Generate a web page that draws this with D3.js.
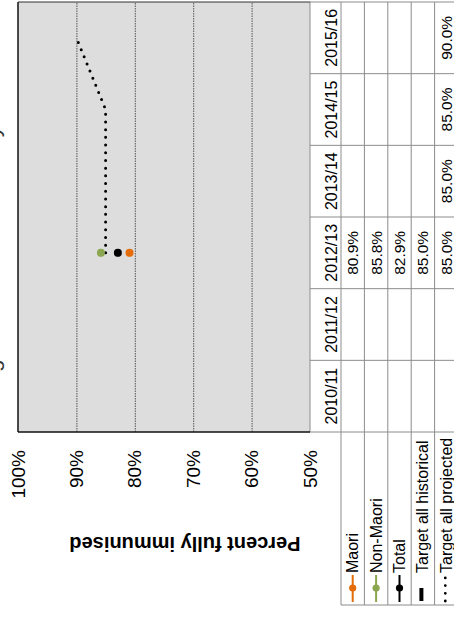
<!DOCTYPE html>
<html><head><meta charset="utf-8">
<script src="https://cdn.jsdelivr.net/npm/d3@7"></script>
<style>html,body{margin:0;padding:0;background:#fff;}svg{display:block;}</style>
</head><body>
<script>
// ---- data ----
const years = ["2010/11","2011/12","2012/13","2013/14","2014/15","2015/16"];
const maori = [null,null,80.9,null,null,null];
const nonMaori = [null,null,85.8,null,null,null];
const total = [null,null,82.9,null,null,null];
const targetHistorical = [null,null,85.0,null,null,null];
const targetProjected = [null,null,85.0,85.0,85.0,90.0];
const yTicks = [50,60,70,80,90,100];
const rowNames = ["Maori","Non-Maori","Total","Target all historical","Target all projected"];
const titleText = "Percent of children at eight months who are fully immunised to date";

(function(){
const colors = {"Maori":"#E46C0A","Non-Maori":"#8AA64E","Total":"#000000"};
const font = "Liberation Sans, Arial, Helvetica, sans-serif";

const svg = d3.select("body").append("svg").attr("width",454).attr("height",617);
// whole chart is rotated 90deg counter-clockwise
const g = svg.append("g").attr("transform","translate(0,617) rotate(-90)").style("font-family",font);

const pLeft = 185, pRight = 615, pTop = 18, pBottom = 310;
const x = d3.scaleBand().domain(years).range([pLeft,pRight]);
const y = d3.scaleLinear().domain([50,100]).range([pBottom,pTop]);
const row = d3.scaleBand().domain(rowNames).range([341,341+5*23.4]);

// title (mostly clipped off the top edge)
const title = g.append("text").attr("y",-0.6).attr("font-size",18).attr("fill","#333").text(titleText);
{
  const node = title.node();
  const ig = titleText.indexOf("g"), iy = titleText.indexOf("y");
  const pg = node.getStartPositionOfChar(ig).x, py = node.getStartPositionOfChar(iy).x;
  const s = (480-245)/(py-pg);
  title.attr("font-size",18*s).attr("x",245 - pg*s);
}

// plot background
g.append("rect").attr("x",pLeft).attr("y",pTop).attr("width",pRight-pLeft).attr("height",pBottom-pTop).attr("fill","#DDDDDD");

// gridlines
g.append("g").attr("transform",`translate(${pLeft},0)`)
  .call(d3.axisLeft(y).tickValues(yTicks.filter(t=>t>50&&t<100)).tickSize(-(pRight-pLeft)).tickFormat(""))
  .call(s=>s.select(".domain").remove())
  .call(s=>s.selectAll("line").attr("stroke","#555").attr("stroke-width",1).attr("stroke-dasharray","1.5,1"));

// tick labels
g.append("g").attr("transform",`translate(${pLeft},0)`)
  .call(d3.axisLeft(y).tickValues(yTicks).tickSize(0).tickPadding(18).tickFormat(d=>d+"%"))
  .call(s=>s.select(".domain").remove())
  .call(s=>s.selectAll("text").attr("font-size",19).attr("fill","#000").attr("font-family",font));

// axis title
g.append("text").attr("transform",`translate(80,185) rotate(-90)`).attr("text-anchor","middle")
  .attr("font-size",20).attr("font-weight","bold").attr("fill","#000").text("Percent fully immunised");

// table lines
const tcol = "#8c8c8c";
const tbl = g.append("g").attr("stroke",tcol).attr("stroke-width",1).attr("fill","none");
tbl.append("line").attr("x1",pLeft).attr("x2",pRight).attr("y1",pBottom).attr("y2",pBottom);
rowNames.forEach(r=>{
  tbl.append("line").attr("x1",12).attr("x2",pRight).attr("y1",row(r)).attr("y2",row(r));
});
tbl.append("line").attr("x1",12).attr("x2",pRight).attr("y1",row.range()[1]).attr("y2",row.range()[1]);
years.forEach(yr=>{
  tbl.append("line").attr("x1",x(yr)).attr("x2",x(yr)).attr("y1",pBottom).attr("y2",470);
});
tbl.append("line").attr("x1",pRight).attr("x2",pRight).attr("y1",pBottom).attr("y2",470);
tbl.append("line").attr("x1",12).attr("x2",12).attr("y1",341).attr("y2",470);

// plot frame
const fr = g.append("g").attr("stroke","#111").attr("fill","none");
fr.append("line").attr("x1",pLeft).attr("x2",pRight).attr("y1",pTop).attr("y2",pTop).attr("stroke-width",1.5);
fr.append("line").attr("x1",pLeft).attr("x2",pLeft).attr("y1",pTop).attr("y2",pBottom).attr("stroke-width",1.5);
fr.append("line").attr("x1",pRight).attr("x2",pRight).attr("y1",pTop).attr("y2",pBottom).attr("stroke-width",1.2).attr("stroke","#333");

// year headers
g.append("g").selectAll("text").data(years).join("text")
  .attr("x",d=>x(d)+x.bandwidth()/2).attr("y",336.6).attr("text-anchor","middle")
  .attr("font-size",16).attr("fill","#000").text(d=>d);

// table values
const seriesByRow = {"Maori":maori,"Non-Maori":nonMaori,"Total":total,"Target all historical":targetHistorical,"Target all projected":targetProjected};
const fmt = d=>d3.format(".1f")(d)+"%";
rowNames.forEach(r=>{
  g.append("g").selectAll("text").data(years.map((yr,i)=>({yr,v:seriesByRow[r][i]})).filter(d=>d.v!=null)).join("text")
    .attr("x",d=>x(d.yr)+x.bandwidth()/2).attr("y",row(r)+17.2).attr("text-anchor","middle")
    .attr("font-size",15.5).attr("fill","#000").text(d=>fmt(d.v));
});

// projected target dotted line
const projPts = years.map((yr,i)=>({yr,v:targetProjected[i]})).filter(d=>d.v!=null);
g.append("path").datum(projPts)
  .attr("d",d3.line().x(d=>x(d.yr)+x.bandwidth()/2).y(d=>y(d.v)))
  .attr("fill","none").attr("stroke","#000").attr("stroke-width",3)
  .attr("stroke-linecap","round").attr("stroke-dasharray","0,7.7");

// series points
[["Non-Maori",nonMaori],["Total",total],["Maori",maori]].forEach(([name,arr])=>{
  g.append("g").selectAll("circle").data(years.map((yr,i)=>({yr,v:arr[i]})).filter(d=>d.v!=null)).join("circle")
    .attr("cx",d=>x(d.yr)+x.bandwidth()/2).attr("cy",d=>y(d.v)).attr("r",4).attr("fill",colors[name]);
});

// legend
rowNames.forEach(r=>{
  const cy = row(r)+row.bandwidth()/2;
  const lg = g.append("g");
  if (colors[r]) {
    lg.append("line").attr("x1",15).attr("x2",42).attr("y1",cy).attr("y2",cy).attr("stroke",colors[r]).attr("stroke-width",2);
    lg.append("circle").attr("cx",29).attr("cy",cy).attr("r",3.6).attr("fill",colors[r]);
  } else if (r==="Target all historical") {
    lg.append("line").attr("x1",16).attr("x2",29).attr("y1",cy-1.5).attr("y2",cy-1.5).attr("stroke","#000").attr("stroke-width",4);
  } else {
    lg.append("line").attr("x1",16).attr("x2",42).attr("y1",cy-1).attr("y2",cy-1).attr("stroke","#000").attr("stroke-width",2.8)
      .attr("stroke-linecap","round").attr("stroke-dasharray","0,7.7");
  }
  lg.append("text").attr("x",44).attr("y",row(r)+17.2).attr("font-size",16).attr("fill","#000").text(r);
});
})();
</script>
</body></html>
